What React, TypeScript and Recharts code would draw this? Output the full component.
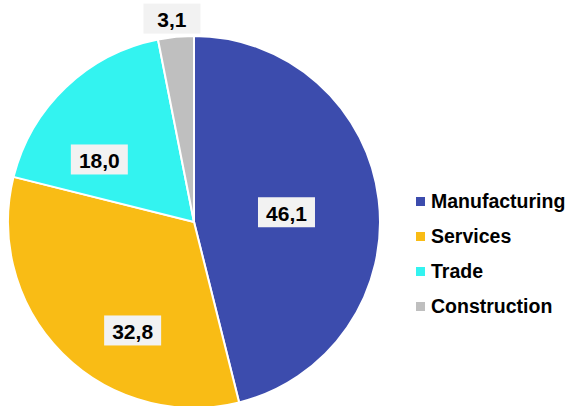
import { PieChart, Pie, Cell, Legend } from "recharts"

const sectors = ["Manufacturing", "Services", "Trade", "Construction"]
const shares = [46.1, 32.8, 18.0, 3.1]
const colors = ["#3c4cad", "#f9bc15", "#33f3f0", "#bfbfbf"]

// label placement tweaks (radius fraction, angle shift) to follow the original layout
const labelRadius = [0.5, 0.67, 0.61, 1.1]
const labelShift = [-1, 15.5, 13, 0.6]

const data = sectors.map((name, i) => ({ name, value: shares[i] }))

const RAD = Math.PI / 180

const BoxLabel = (props: any) => {
    const { cx, cy, midAngle, outerRadius, index, value } = props
    const a = (midAngle + labelShift[index]) * RAD
    const r = outerRadius * labelRadius[index]
    const x = cx + r * Math.cos(-a)
    const y = cy + r * Math.sin(-a)
    const txt = value.toFixed(1).replace(".", ",")
    const w = 57
    const h = 30
    return (
        <g>
            <rect x={x - w / 2} y={y - h / 2} width={w} height={h} fill="#f2f2f2" />
            <text x={x} y={y + 1} textAnchor="middle" dominantBaseline="central"
                fontFamily="'Liberation Sans', Arial, sans-serif" fontWeight="bold" fontSize={21} fill="#000">
                {txt}
            </text>
        </g>
    )
}

// keep the legend in the data order (recharts sorts the payload otherwise)
const SideLegend = ({ payload }: any) => {
    const items = sectors.map((s, i) => {
        const p = (payload || []).find((q: any) => q.value === s)
        return { label: s, color: p ? p.color : colors[i] }
    })
    return (
        <div style={{ fontFamily: "'Liberation Sans', Arial, sans-serif", fontWeight: "bold", fontSize: 19.5, color: "#000" }}>
            {items.map((p, i) => (
                <div key={i} style={{ display: "flex", alignItems: "center", height: 35 }}>
                    <span style={{ display: "inline-block", width: 9, height: 9, background: p.color, marginRight: 6 }} />
                    <span>{p.label}</span>
                </div>
            ))}
        </div>
    )
}

export default function App() {
    return (
        <div style={{ position: "absolute", left: 0, top: 0, background: "#fff" }}>
            <PieChart width={569} height={406}>
                <Pie data={data} dataKey="value" nameKey="name" cx={189} cy={217} outerRadius={186}
                    startAngle={90} endAngle={-270} stroke="#fff" strokeWidth={2}
                    label={BoxLabel} labelLine={false} isAnimationActive={false}>
                    {data.map((d, i) => (
                        <Cell key={d.name} fill={colors[i]} />
                    ))}
                </Pie>
                <Legend content={SideLegend} layout="vertical"
                    wrapperStyle={{ position: "absolute", left: 416, top: 184, width: 160 }} />
            </PieChart>
        </div>
    )
}
